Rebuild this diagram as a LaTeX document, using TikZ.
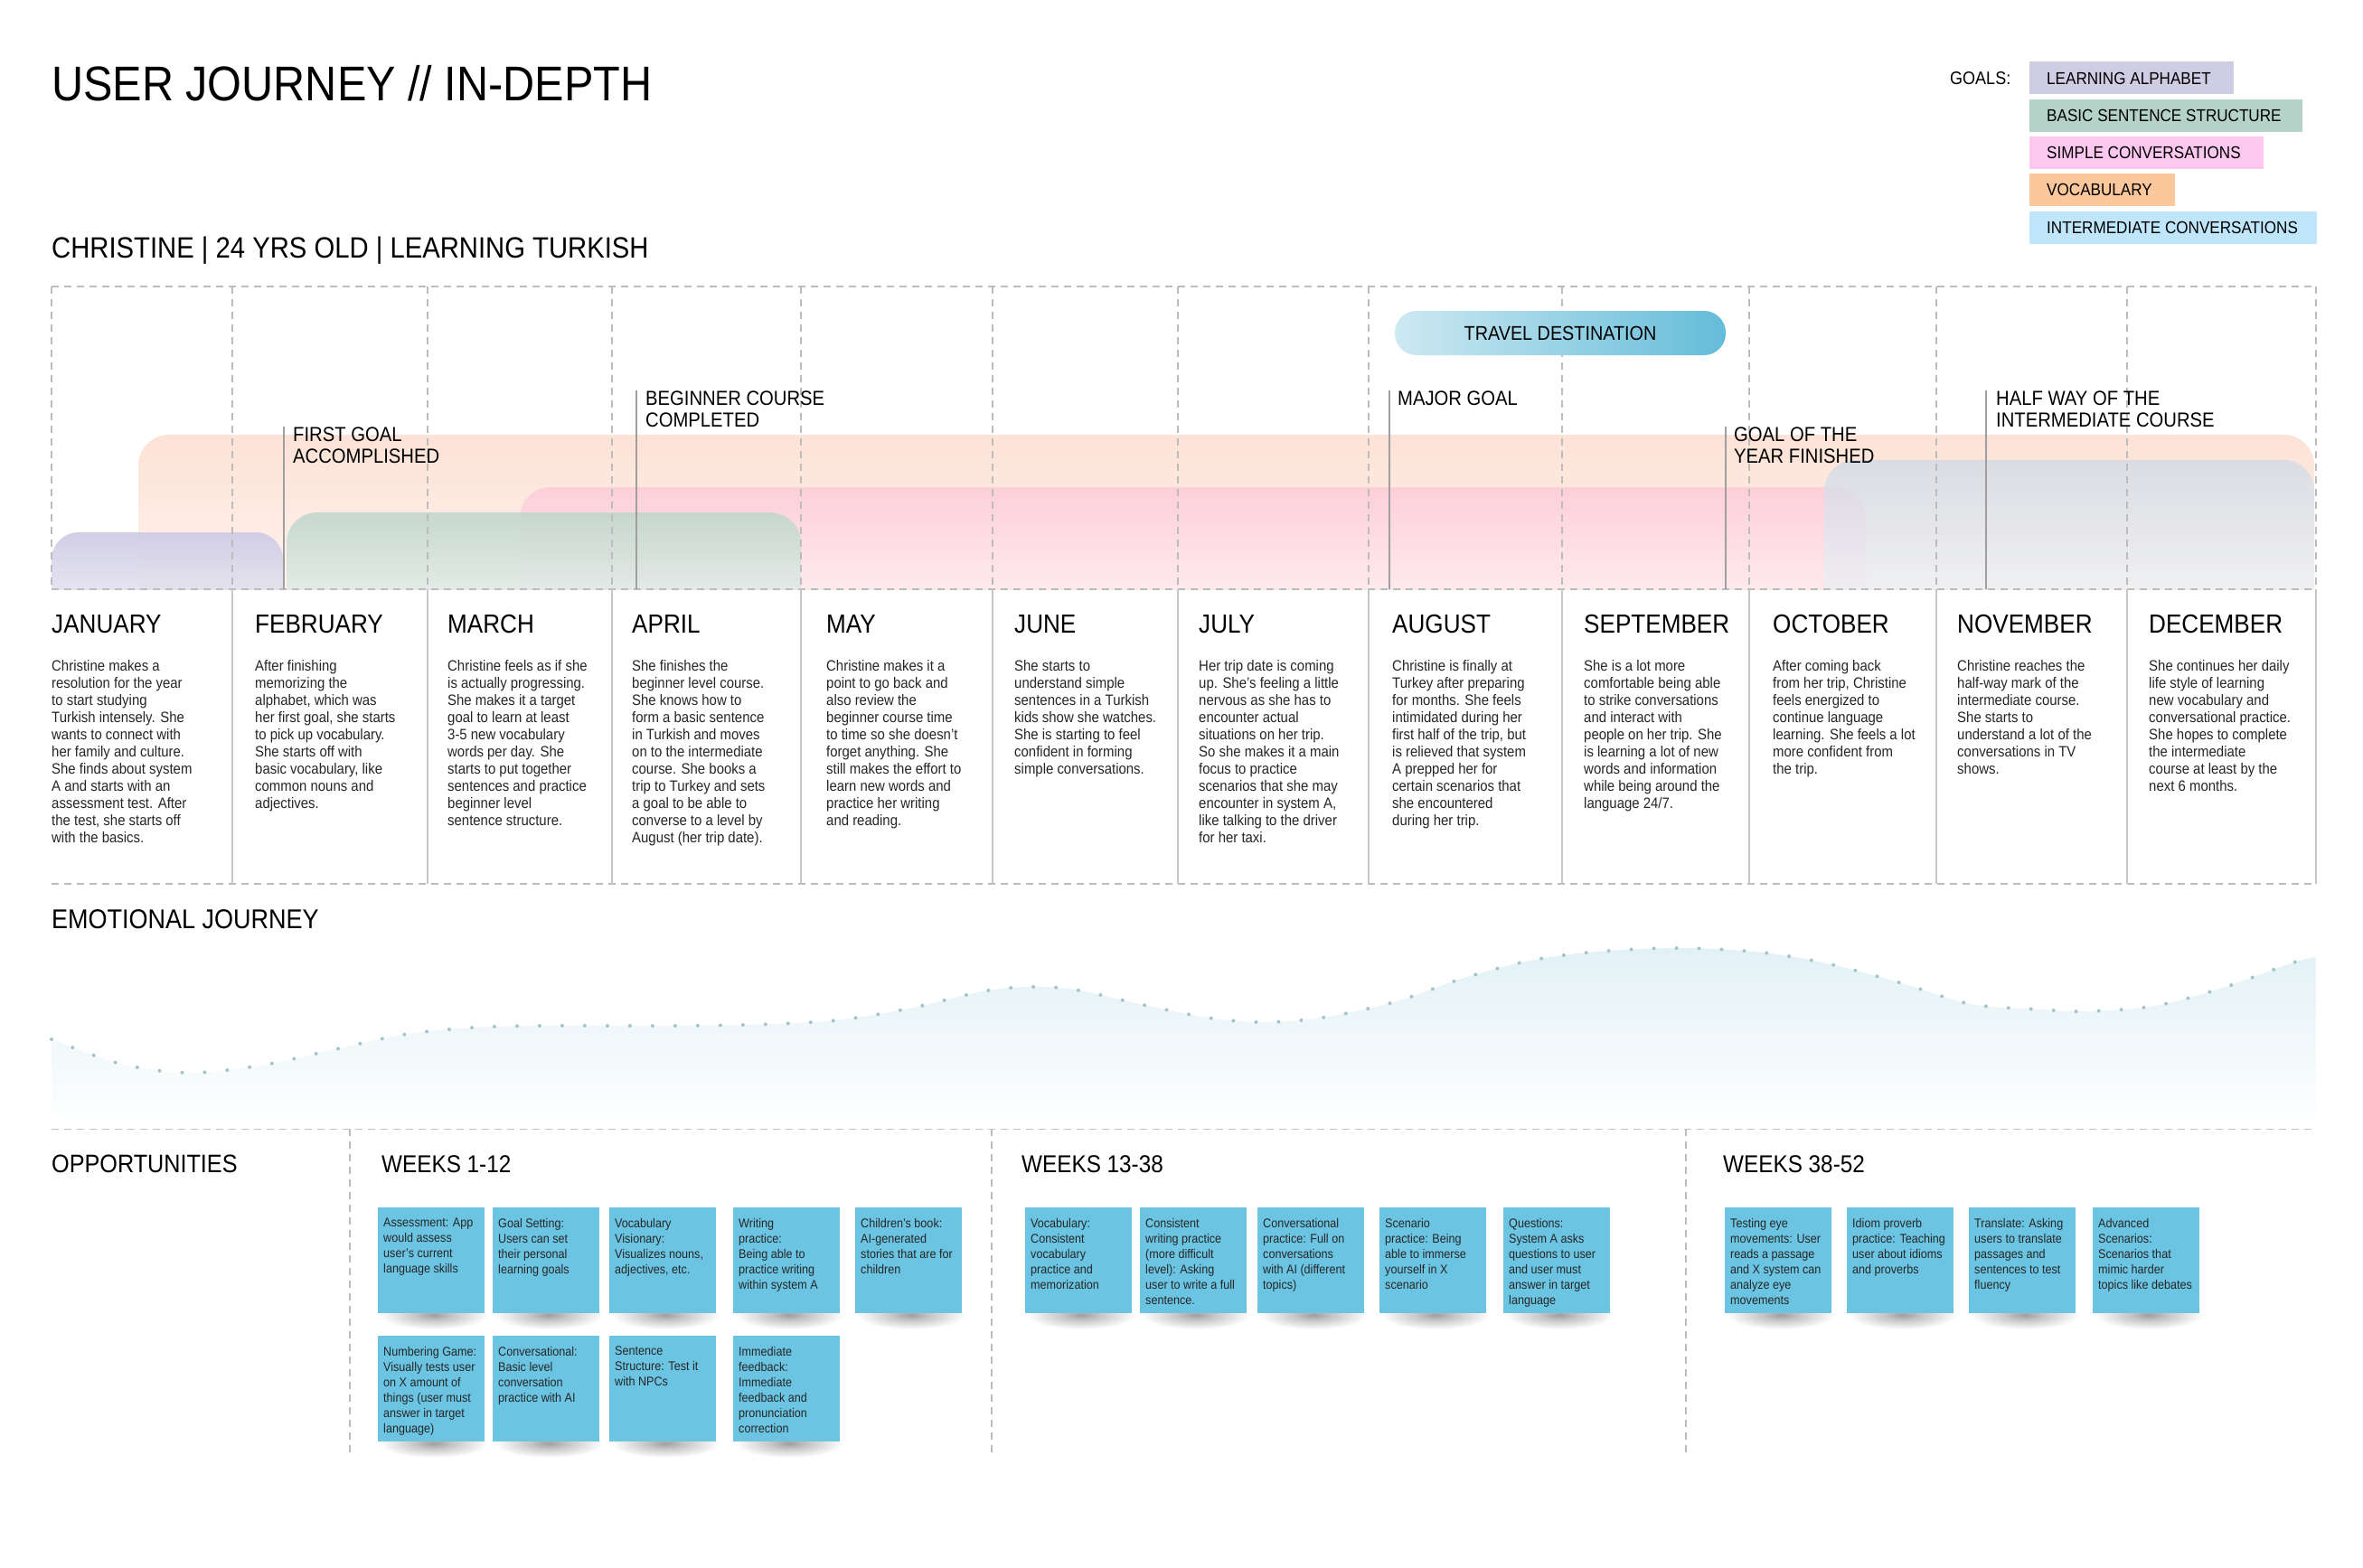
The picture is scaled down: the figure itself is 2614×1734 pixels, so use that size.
\documentclass[tikz,border=0pt]{standalone}
\usepackage{fontspec}
\setmainfont{Liberation Sans}[FakeStretch=0.9]
\usetikzlibrary{positioning}

\definecolor{alphabet}{RGB}{207,205,228}
\definecolor{sentence}{RGB}{181,210,201}
\definecolor{simpleconv}{RGB}{252,200,240}
\definecolor{vocab}{RGB}{251,200,155}
\definecolor{interconv}{RGB}{191,230,250}
\definecolor{peachbar}{RGB}{253,226,214}
\definecolor{lavbar}{RGB}{205,202,228}
\definecolor{greenbar}{RGB}{190,214,204}
\definecolor{pinkbar}{RGB}{254,200,216}
\definecolor{bluebar}{RGB}{208,218,230}
\definecolor{notecyan}{RGB}{106,196,226}
\definecolor{gridgray}{RGB}{188,188,188}
\definecolor{travelleft}{RGB}{205,233,242}
\definecolor{travelright}{RGB}{100,188,217}
\definecolor{emofill}{RGB}{226,241,246}
\definecolor{emodot}{RGB}{165,195,203}

\pgfdeclareradialshading{noteshadow}{\pgfpoint{0bp}{0bp}}{color(0bp)=(black!38); color(9bp)=(black!22); color(25bp)=(white); color(50bp)=(white)}

% sticky note: name, x, y, text
\newcommand\stickynote[4]{%
  \shade[shading=noteshadow] (#2+62,#3+119) ellipse [x radius=60, y radius=16];
  \node[sticky] (#1) at (#2,#3) {};
  \node[notetext] (#1-text) at ([xshift=6pt,yshift=-12pt]#1.north west) {#4};
}

\begin{document}
\begin{tikzpicture}[x=1pt, y=-1pt,
    griddash/.style={gridgray, line width=1.5pt, dash pattern=on 8pt off 6pt},
    gridline/.style={gridgray!85, line width=1.5pt},
    msline/.style={gray!75, line width=1.2pt},
    mslabel/.style={anchor=north west, align=left, inner sep=0, font=\fontsize{22.5}{24}\selectfont},
    heading/.style={anchor=north west, inner sep=0, font=\fontsize{29}{34}\selectfont},
    weeks/.style={anchor=north west, inner sep=0, font=\fontsize{27}{32}\selectfont},
    monthtext/.style={anchor=north west, align=left, inner sep=0, text=black!85, font=\fontsize{16.6}{19}\selectfont},
    goalbox/.style={anchor=west, minimum height=36, inner xsep=19pt, inner ysep=0, font=\fontsize{19}{22}\selectfont},
    bar/.style={rounded corners=34},
    sticky/.style={fill=notecyan, anchor=north west, minimum width=118, minimum height=117, inner sep=0},
    notetext/.style={anchor=north west, align=left, inner sep=0, text=black!85, font=\fontsize{14}{17}\selectfont},
    emodots/.style={emodot, line width=4pt, line cap=round, dash pattern=on 0pt off 25pt}]

\useasboundingbox (0,0) rectangle (2614,1734);
\fill[white] (0,0) rectangle (2614,1734);

% header
\node[anchor=north west, inner sep=0, font=\fontsize{54}{60}\selectfont] (title) at (57,72) {USER JOURNEY // IN-DEPTH};
\node[anchor=north west, inner sep=0, font=\fontsize{32.5}{38}\selectfont] (persona) at (57,262) {CHRISTINE | 24 YRS OLD | LEARNING TURKISH};

% goals legend
\node[anchor=west, inner sep=0, font=\fontsize{20}{24}\selectfont] (goals) at (2157,86.5) {GOALS:};
\node[goalbox, fill=alphabet] (g-alpha) at (2245,86.5) {\makebox[188pt][l]{LEARNING ALPHABET}};
\node[goalbox, fill=sentence] (g-sent) at (2245,128) {\makebox[264pt][l]{BASIC SENTENCE STRUCTURE}};
\node[goalbox, fill=simpleconv] (g-simple) at (2245,169) {\makebox[221pt][l]{SIMPLE CONVERSATIONS}};
\node[goalbox, fill=vocab] (g-vocab) at (2245,210) {\makebox[123pt][l]{VOCABULARY}};
\node[goalbox, fill=interconv] (g-inter) at (2245,252) {\makebox[280pt][l]{INTERMEDIATE CONVERSATIONS}};

% goal bars
\begin{scope}
  \clip (0,0) rectangle (2614,652);
  \path[bar, top color=peachbar, bottom color=peachbar!20] (153,481) rectangle (2560,720);
  \path[bar, top color=pinkbar, bottom color=pinkbar!10, fill opacity=0.75] (575,539) rectangle (2064,720);
  \path[bar, top color=bluebar, bottom color=bluebar!15, fill opacity=0.75] (2018,509) rectangle (2560,720);
  \path[bar, rounded corners=30, top color=lavbar, bottom color=lavbar!10, fill opacity=0.9] (57,589) rectangle (313,720);
  \path[bar, top color=greenbar, bottom color=greenbar!10, fill opacity=0.85] (317,567) rectangle (886,720);
\end{scope}

% grid
\draw[griddash] (57,317) -- (2562,317);
\draw[griddash] (57,652) -- (2562,652);
\draw[griddash] (57,978) -- (2562,978);
\draw[griddash] (57,1249) -- (2562,1249);
\foreach \x in {57,257,473,677,886,1098,1303,1514,1728,1935,2142,2353,2562}
  \draw[griddash] (\x,317) -- (\x,652);
\foreach \x in {257,473,677,886,1098,1303,1514,1728,1935,2142,2353,2562}
  \draw[gridline] (\x,652) -- (\x,978);
\foreach \x in {387,1097,1865}
  \draw[griddash] (\x,1249) -- (\x,1612);

% travel destination
\node[minimum width=366, minimum height=49, rounded corners=24, left color=travelleft, right color=travelright,
      font=\fontsize{22}{26}\selectfont] (travel) at (1726,368.5) {TRAVEL DESTINATION};

% milestones
\coordinate (tlbottom) at (0,652);
\coordinate (ms-first) at (314,472);
\coordinate (ms-begin) at (704,432);
\coordinate (ms-major) at (1537,432);
\coordinate (ms-year) at (1909,472);
\coordinate (ms-half) at (2197,432);
\foreach \c in {ms-first,ms-begin,ms-major,ms-year,ms-half}
  \draw[msline] (\c) -- (\c |- tlbottom);
\node[mslabel] (firstgoal) at ([xshift=10pt,yshift=-1pt]ms-first) {FIRST GOAL\\ACCOMPLISHED};
\node[mslabel] (beginner) at ([xshift=10pt,yshift=-1pt]ms-begin) {BEGINNER COURSE\\COMPLETED};
\node[mslabel] (majorgoal) at ([xshift=9pt,yshift=-1pt]ms-major) {MAJOR GOAL};
\node[mslabel] (yeargoal) at ([xshift=9pt,yshift=-1pt]ms-year) {GOAL OF THE\\YEAR FINISHED};
\node[mslabel] (halfway) at ([xshift=11pt,yshift=-1pt]ms-half) {HALF WAY OF THE\\INTERMEDIATE COURSE};

% months
\foreach \m/\x/\n in {JANUARY/57/jan, FEBRUARY/282/feb, MARCH/495/mar, APRIL/699/apr, MAY/914/may, JUNE/1122/jun,
    JULY/1326/jul, AUGUST/1540/aug, SEPTEMBER/1752/sep, OCTOBER/1961/oct, NOVEMBER/2165/nov, DECEMBER/2377/dec}
  \node[heading] (\n) at (\x,680) {\m};

\node[monthtext] (jan-text) at (57,730) {Christine makes a\\resolution for the year\\to start studying\\Turkish intensely. She\\wants to connect with\\her family and culture.\\She finds about system\\A and starts with an\\assessment test. After\\the test, she starts off\\with the basics.};
\node[monthtext] (feb-text) at (282,730) {After finishing\\memorizing the\\alphabet, which was\\her first goal, she starts\\to pick up vocabulary.\\She starts off with\\basic vocabulary, like\\common nouns and\\adjectives.};
\node[monthtext] (mar-text) at (495,730) {Christine feels as if she\\is actually progressing.\\She makes it a target\\goal to learn at least\\3-5 new vocabulary\\words per day. She\\starts to put together\\sentences and practice\\beginner level\\sentence structure.};
\node[monthtext] (apr-text) at (699,730) {She finishes the\\beginner level course.\\She knows how to\\form a basic sentence\\in Turkish and moves\\on to the intermediate\\course. She books a\\trip to Turkey and sets\\a goal to be able to\\converse to a level by\\August (her trip date).};
\node[monthtext] (may-text) at (914,730) {Christine makes it a\\point to go back and\\also review the\\beginner course time\\to time so she doesn't\\forget anything. She\\still makes the effort to\\learn new words and\\practice her writing\\and reading.};
\node[monthtext] (jun-text) at (1122,730) {She starts to\\understand simple\\sentences in a Turkish\\kids show she watches.\\She is starting to feel\\confident in forming\\simple conversations.};
\node[monthtext] (jul-text) at (1326,730) {Her trip date is coming\\up. She's feeling a little\\nervous as she has to\\encounter actual\\situations on her trip.\\So she makes it a main\\focus to practice\\scenarios that she may\\encounter in system A,\\like talking to the driver\\for her taxi.};
\node[monthtext] (aug-text) at (1540,730) {Christine is finally at\\Turkey after preparing\\for months. She feels\\intimidated during her\\first half of the trip, but\\is relieved that system\\A prepped her for\\certain scenarios that\\she encountered\\during her trip.};
\node[monthtext] (sep-text) at (1752,730) {She is a lot more\\comfortable being able\\to strike conversations\\and interact with\\people on her trip. She\\is learning a lot of new\\words and information\\while being around the\\language 24/7.};
\node[monthtext] (oct-text) at (1961,730) {After coming back\\from her trip, Christine\\feels energized to\\continue language\\learning. She feels a lot\\more confident from\\the trip.};
\node[monthtext] (nov-text) at (2165,730) {Christine reaches the\\half-way mark of the\\intermediate course.\\She starts to\\understand a lot of the\\conversations in TV\\shows.};
\node[monthtext] (dec-text) at (2377,730) {She continues her daily\\life style of learning\\new vocabulary and\\conversational practice.\\She hopes to complete\\the intermediate\\course at least by the\\next 6 months.};

% emotional journey
\node[heading, font=\fontsize{30}{34}\selectfont] (emotion) at (57,1006) {EMOTIONAL JOURNEY};
\path[top color=emofill, bottom color=white] (57,1249) -- plot[smooth, tension=0.55] coordinates {
  (57,1150) (133,1177) (208,1187) (288,1179) (367,1162) (445,1145) (523,1137) (600,1135) (750,1135)
  (858,1133) (934,1128) (1010,1115) (1087,1097) (1138,1092) (1189,1095) (1265,1112) (1342,1127)
  (1405,1131) (1469,1125) (1545,1108) (1617,1083) (1692,1063) (1767,1053) (1859,1049) (1950,1054)
  (2025,1067) (2104,1088) (2180,1111) (2257,1117) (2309,1119) (2384,1113) (2459,1093) (2534,1066) (2562,1059)}
  -- (2562,1249) -- cycle;
\draw[emodots] plot[smooth, tension=0.55] coordinates {
  (57,1150) (133,1177) (208,1187) (288,1179) (367,1162) (445,1145) (523,1137) (600,1135) (750,1135)
  (858,1133) (934,1128) (1010,1115) (1087,1097) (1138,1092) (1189,1095) (1265,1112) (1342,1127)
  (1405,1131) (1469,1125) (1545,1108) (1617,1083) (1692,1063) (1767,1053) (1859,1049) (1950,1054)
  (2025,1067) (2104,1088) (2180,1111) (2257,1117) (2309,1119) (2384,1113) (2459,1093) (2534,1066) (2562,1059)};

% opportunities
\node[heading, font=\fontsize{28}{32}\selectfont] (opps) at (57,1278) {OPPORTUNITIES};
\node[weeks] (wk1) at (422,1278) {WEEKS 1-12};
\node[weeks] (wk2) at (1130,1278) {WEEKS 13-38};
\node[weeks] (wk3) at (1906,1278) {WEEKS 38-52};

\stickynote{w1a}{418}{1336}{Assessment: App\\would assess\\user's current\\language skills}
\stickynote{w1b}{545}{1336}{Goal Setting:\\Users can set\\their personal\\learning goals}
\stickynote{w1c}{674}{1336}{Vocabulary\\Visionary:\\Visualizes nouns,\\adjectives, etc.}
\stickynote{w1d}{811}{1336}{Writing\\practice:\\Being able to\\practice writing\\within system A}
\stickynote{w1e}{946}{1336}{Children's book:\\AI-generated\\stories that are for\\children}
\stickynote{w1f}{418}{1478}{Numbering Game:\\Visually tests user\\on X amount of\\things (user must\\answer in target\\language)}
\stickynote{w1g}{545}{1478}{Conversational:\\Basic level\\conversation\\practice with AI}
\stickynote{w1h}{674}{1478}{Sentence\\Structure: Test it\\with NPCs}
\stickynote{w1i}{811}{1478}{Immediate\\feedback:\\Immediate\\feedback and\\pronunciation\\correction}

\stickynote{w2a}{1134}{1336}{Vocabulary:\\Consistent\\vocabulary\\practice and\\memorization}
\stickynote{w2b}{1261}{1336}{Consistent\\writing practice\\(more difficult\\level): Asking\\user to write a full\\sentence.}
\stickynote{w2c}{1391}{1336}{Conversational\\practice: Full on\\conversations\\with AI (different\\topics)}
\stickynote{w2d}{1526}{1336}{Scenario\\practice: Being\\able to immerse\\yourself in X\\scenario}
\stickynote{w2e}{1663}{1336}{Questions:\\System A asks\\questions to user\\and user must\\answer in target\\language}

\stickynote{w3a}{1908}{1336}{Testing eye\\movements: User\\reads a passage\\and X system can\\analyze eye\\movements}
\stickynote{w3b}{2043}{1336}{Idiom proverb\\practice: Teaching\\user about idioms\\and proverbs}
\stickynote{w3c}{2178}{1336}{Translate: Asking\\users to translate\\passages and\\sentences to test\\fluency}
\stickynote{w3d}{2315}{1336}{Advanced\\Scenarios:\\Scenarios that\\mimic harder\\topics like debates}

\end{tikzpicture}
\end{document}
